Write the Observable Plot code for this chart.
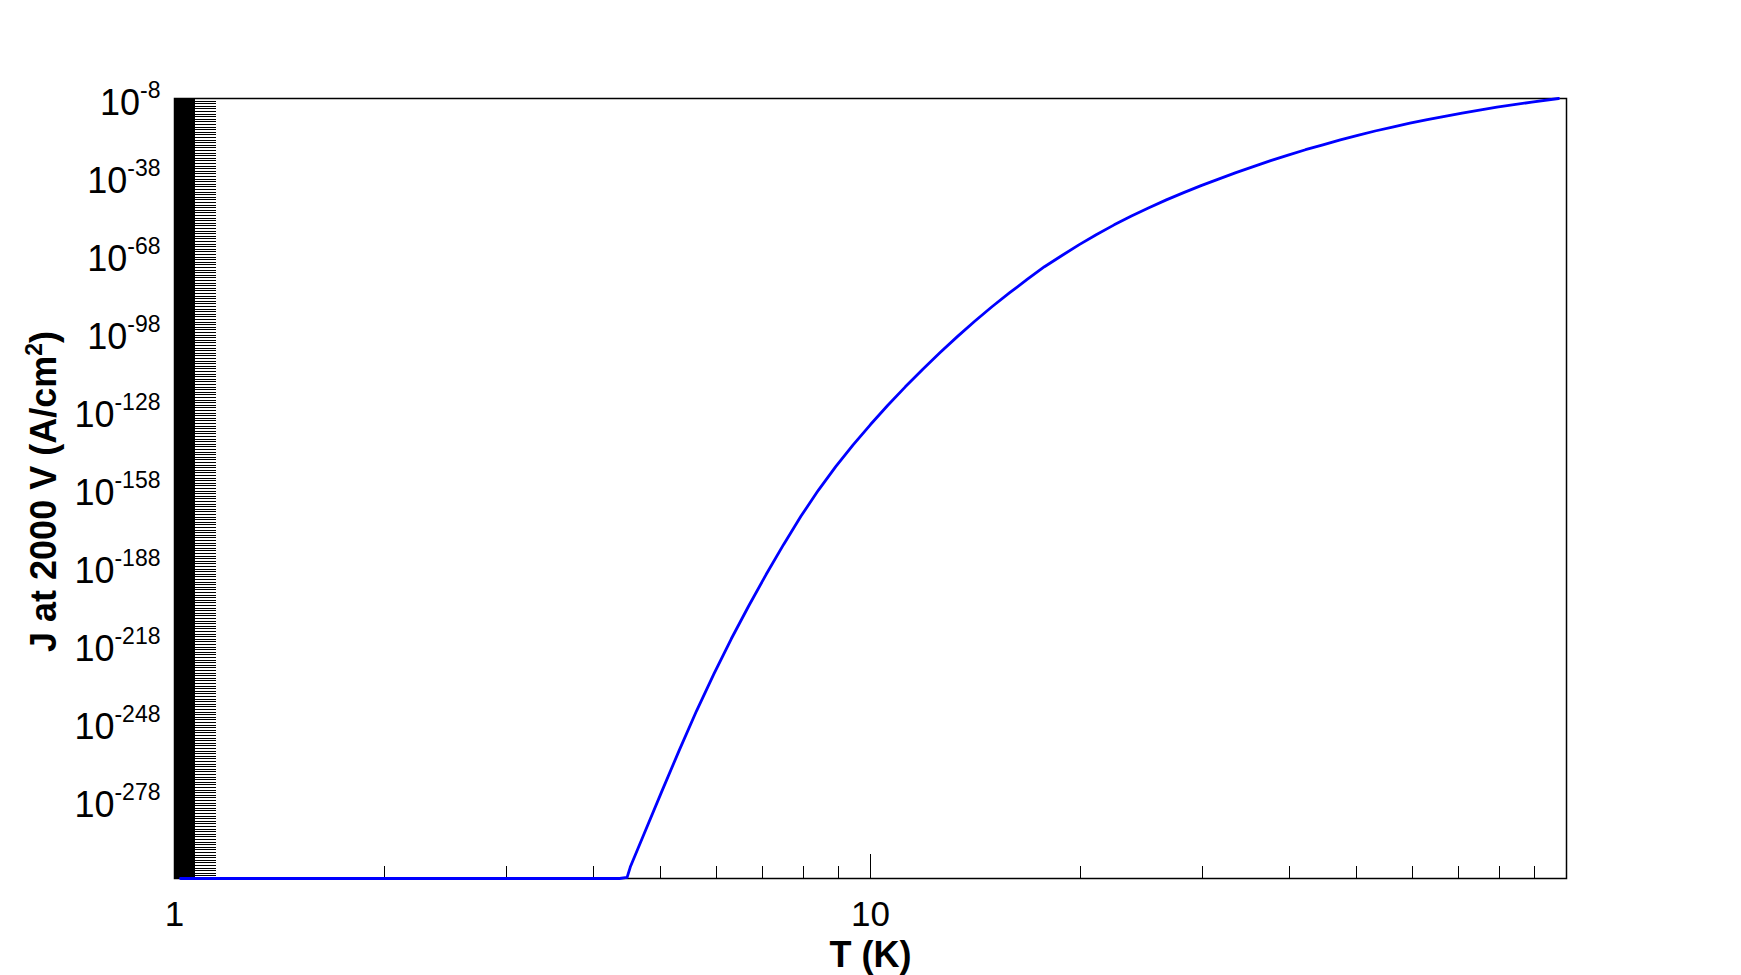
<!DOCTYPE html>
<html>
<head>
<meta charset="utf-8">
<script src="https://cdn.jsdelivr.net/npm/d3@7"></script>
<script src="https://cdn.jsdelivr.net/npm/@observablehq/plot@0.6"></script>
<style>
  html, body { margin: 0; padding: 0; background: white; }
  svg { display: block; }
</style>
</head>
<body>
<div id="chart"></div>
<script>
// Temperature (K)
const T = [1.02, 4.36, 4.47, 4.517, 4.732, 5.012, 5.309, 5.623, 5.957, 6.31, 6.683, 7.079, 7.499,
  7.943, 8.414, 8.913, 9.441, 10.0, 10.59, 11.22, 11.89, 12.59, 13.34, 14.13, 14.96, 15.85, 16.79,
  17.78, 18.84, 19.95, 21.13, 22.39, 23.71, 25.12, 26.61, 28.18, 29.85, 31.62, 33.5, 35.48, 37.58,
  39.81, 42.17, 44.67, 47.32, 50.12, 53.09, 56.23, 59.57, 63.1, 70.79, 79.43, 89.13, 97.4];
// log10 of J at 2000 V (A/cm^2)
const logJ = [-308, -308, -307.6, -303.6, -290.6, -274.6, -258.8, -243.6, -229.3, -215.8, -203.2,
  -191.1, -179.6, -168.7, -158.7, -149.6, -141.2, -133.4, -126.0, -118.9, -112.1, -105.7, -99.5,
  -93.6, -88.0, -82.7, -77.6, -72.7, -68.4, -64.2, -60.3, -56.6, -53.2, -50.0, -47.0, -44.2, -41.5,
  -39.0, -36.5, -34.2, -31.9, -29.8, -27.7, -25.8, -23.9, -22.2, -20.5, -19.0, -17.5, -16.1, -13.6,
  -11.3, -9.4, -8.0];

// Axis tick labels
const yLabelExponents = [-8, -38, -68, -98, -128, -158, -188, -218, -248, -278];
const xLabelTicks = [1, 10];
const xMajorTicks = [10];
const xMinorTicks = [2, 3, 4, 5, 6, 7, 8, 9, 20, 30, 40, 50, 60, 70, 80, 90];
const yDecadeExponents = d3.range(-308, -8); // one tick per decade
const yMinorMultipliers = [2, 3, 4, 5, 6, 7, 8, 9];

const data = T.map((t, i) => ({T: t, J: Math.pow(10, logJ[i])}));
const yMajor = yDecadeExponents.map(k => Math.pow(10, k)).concat([1e-8]);
const yMinor = yDecadeExponents.flatMap(k => yMinorMultipliers.map(m => m * Math.pow(10, k)));

const W = 1741, H = 975;
const mL = 174, mR = 175, mT = 98, mB = 97;
const pw = W - mL - mR, ph = H - mT - mB;

const svg = Plot.plot({
  width: W,
  height: H,
  marginLeft: mL,
  marginRight: mR,
  marginTop: mT,
  marginBottom: mB,
  style: {fontFamily: "'Liberation Sans', Arial, sans-serif", background: "white", color: "black", fontSize: "36px"},
  x: {type: "log", domain: [1, 100]},
  y: {type: "log", domain: [1e-308, 1e-8]},
  marks: [
    // inward ticks on the left
    Plot.ruleY(yMinor, {y: d => d, insetRight: pw - 21, stroke: "black", strokeWidth: 1, shapeRendering: "crispEdges"}),
    Plot.ruleY(yMajor, {y: d => d, insetRight: pw - 42, stroke: "black", strokeWidth: 1, shapeRendering: "crispEdges"}),
    // inward ticks on the bottom
    Plot.ruleX(xMinorTicks, {x: d => d, insetTop: ph - 12, stroke: "black", strokeWidth: 1, shapeRendering: "crispEdges"}),
    Plot.ruleX(xMajorTicks, {x: d => d, insetTop: ph - 24, stroke: "black", strokeWidth: 1, shapeRendering: "crispEdges"}),
    Plot.frame({stroke: "black", strokeWidth: 1.5}),
    Plot.axisX({ticks: xLabelTicks, tickSize: 0, tickPadding: 23, fontSize: 35, tickFormat: d => String(d), label: null}),
    Plot.axisY({ticks: yLabelExponents.map(e => Math.pow(10, e)), tickSize: 0, tickPadding: 14, fontSize: 36,
      tickFormat: d => "10^" + Math.round(Math.log10(d)), label: null}),
    Plot.text(["T (K)"], {text: d => d, frameAnchor: "bottom", dy: 88, lineAnchor: "bottom",
      fontSize: 36, fontWeight: "bold", fill: "black"}),
    Plot.text(["J at 2000 V (A/cm|2|)"], {text: d => d, frameAnchor: "left", dx: -119, dy: 3, rotate: -90,
      textAnchor: "middle", lineAnchor: "bottom", fontSize: 36, fontWeight: "bold", fill: "black"}),
    Plot.line(data, {x: "T", y: "J", stroke: "#0000ff", strokeWidth: 2.8})
  ]
});

// superscripts in tick labels and the y label
d3.select(svg).selectAll("text").each(function () {
  const s = this.textContent;
  const t = d3.select(this);
  if (s.includes("^")) {
    const [base, exp] = s.split("^");
    t.text(null).attr("y", 16);
    t.append("tspan").text(base);
    t.append("tspan").attr("dy", -17).attr("font-size", 23).text(exp);
  } else if (s.includes("|")) {
    const parts = s.split("|");
    t.text(null);
    t.append("tspan").text(parts[0]);
    t.append("tspan").attr("dy", -14).attr("font-size", 23).text(parts[1]);
    t.append("tspan").attr("dy", 14).text(parts[2]);
  }
});

document.getElementById("chart").appendChild(svg);
</script>
</body>
</html>
